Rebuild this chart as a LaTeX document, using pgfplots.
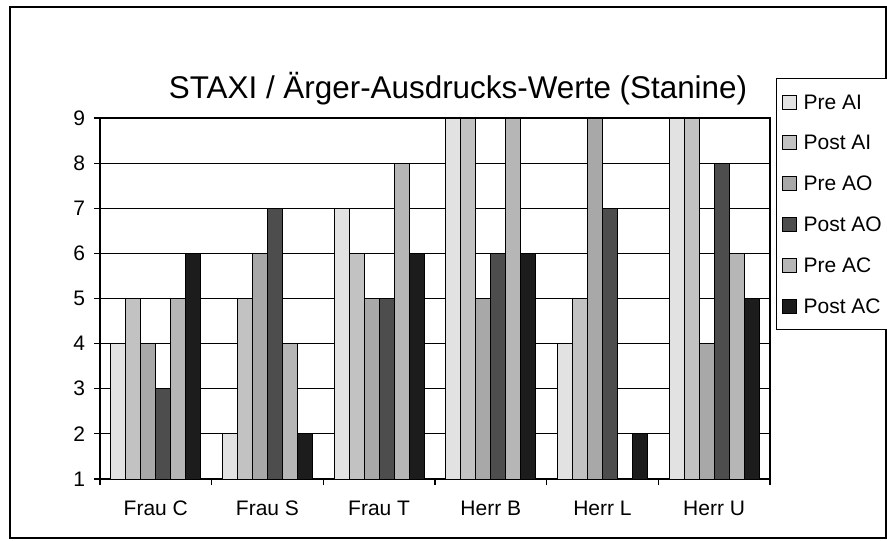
\documentclass[border=0pt]{standalone}
\usepackage{fontspec}
\setmainfont{Liberation Sans}
\usepackage{pgfplots}
\pgfplotsset{compat=1.18}
\definecolor{cPreAI}{HTML}{E2E2E2}
\definecolor{cPostAI}{HTML}{C2C2C2}
\definecolor{cPreAO}{HTML}{A8A8A8}
\definecolor{cPostAO}{HTML}{4D4D4D}
\definecolor{cPreAC}{HTML}{B6B6B6}
\definecolor{cPostAC}{HTML}{1C1C1C}
\begin{document}
\begin{tikzpicture}
\path[use as bounding box] (0,0) rectangle (443.5pt,270pt);
\draw[line width=1pt] (5pt,1pt) rectangle (443pt,266.5pt);
\node[anchor=base, font=\fontsize{15.7pt}{18pt}\selectfont, inner sep=0pt] at (229pt,220.5pt) {STAXI / Ärger-Ausdrucks-Werte (Stanine)};
\begin{axis}[
  at={(50pt,30.5pt)}, anchor=south west,
  width=335pt, height=180.5pt, scale only axis,
  xmin=-0.5, xmax=5.5, ymin=1, ymax=9,
  ybar=0pt, bar width=7.5pt,
  xtick={0,...,5},
  xticklabels={Frau C, Frau S, Frau T, Herr B, Herr L, Herr U},
  minor xtick={-0.5,0.5,1.5,2.5,3.5,4.5,5.5},
  ytick={1,...,9},
  tick align=outside,
  major x tick style={draw=none},
  minor x tick style={black, line width=0.6pt},
  major y tick style={black, line width=0.6pt},
  minor tick length=3pt, major tick length=3pt,
  ymajorgrids, grid style={black, line width=0.5pt},
  axis line style={black, line width=0.8pt},
  xtick pos=bottom, ytick pos=left,
  tick label style={font=\fontsize{10.5pt}{12pt}\selectfont},
  /pgf/number format/assume math mode=true,
  yticklabel style={xshift=-1pt},
  xticklabel style={anchor=base, yshift=-15pt},
  legend style={at={(1.009,1.111)}, anchor=north west, draw=black, line width=0.6pt,
    font=\fontsize{10.5pt}{12pt}\selectfont, inner xsep=2.5pt, inner ysep=6.75pt,
    row sep=10.4pt, column sep=2.5pt,
    nodes={text height=8.5pt, text depth=1.5pt, inner ysep=0pt, inner xsep=1pt}},
  legend cell align=left,
  legend image code/.code={\draw[#1, draw=black, line width=0.5pt] (0pt,-3.5pt) rectangle (7pt,3.5pt);},
]
\addplot[fill=cPreAI, draw=black, line width=0.5pt] coordinates {(0,4) (1,2) (2,7) (3,9) (4,4) (5,9)};
\addplot[fill=cPostAI, draw=black, line width=0.5pt] coordinates {(0,5) (1,5) (2,6) (3,9) (4,5) (5,9)};
\addplot[fill=cPreAO, draw=black, line width=0.5pt] coordinates {(0,4) (1,6) (2,5) (3,5) (4,9) (5,4)};
\addplot[fill=cPostAO, draw=black, line width=0.5pt] coordinates {(0,3) (1,7) (2,5) (3,6) (4,7) (5,8)};
\addplot[fill=cPreAC, draw=black, line width=0.5pt] coordinates {(0,5) (1,4) (2,8) (3,9) (4,1) (5,6)};
\addplot[fill=cPostAC, draw=black, line width=0.5pt] coordinates {(0,6) (1,2) (2,6) (3,6) (4,2) (5,5)};
\legend{Pre AI, Post AI, Pre AO, Post AO, Pre AC, Post AC}
\end{axis}
\end{tikzpicture}
\end{document}
